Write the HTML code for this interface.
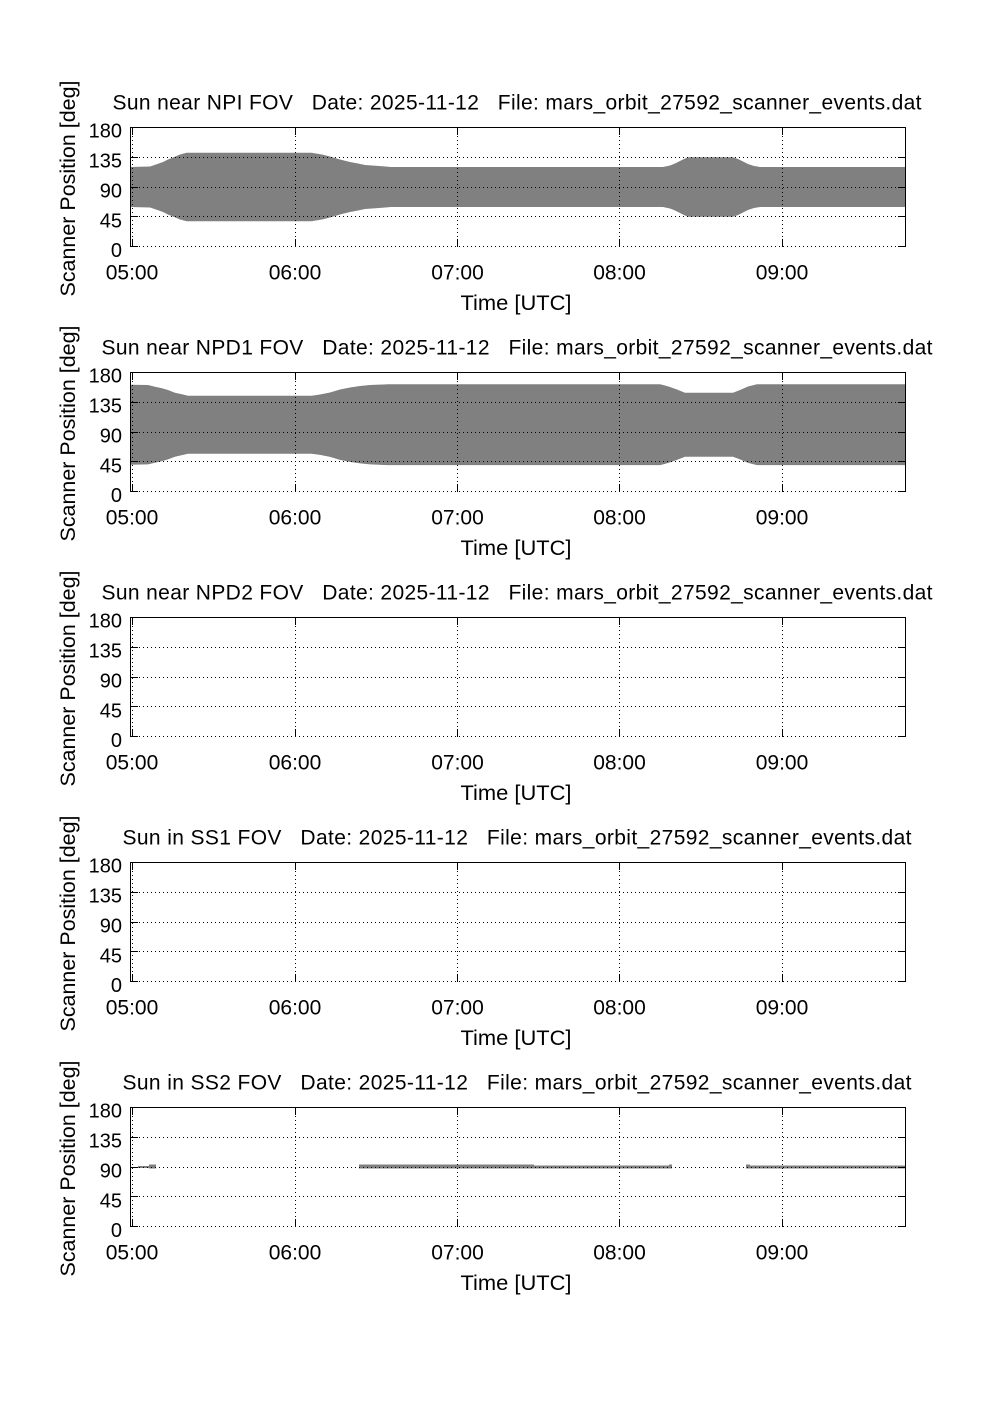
<!DOCTYPE html>
<html>
<head>
<meta charset="utf-8">
<style>
html,body{margin:0;padding:0;background:#fff;}
svg{display:block;}
text{font-family:"Liberation Sans","DejaVu Sans",sans-serif;fill:#000;white-space:pre;}
.t{font-size:21px;}
.xl{font-size:21px;text-anchor:middle;}
.yl{font-size:20px;text-anchor:end;}
</style>
</head>
<body>
<svg width="1002" height="1419" viewBox="0 0 1002 1419" xmlns="http://www.w3.org/2000/svg" xml:space="preserve">
<rect width="1002" height="1419" fill="#fff"/>
<defs>
  <g id="frame">
    <g stroke="#000" stroke-width="1" stroke-dasharray="1 3" fill="none" shape-rendering="crispEdges">
      <line x1="131" y1="157.5" x2="905" y2="157.5"/>
      <line x1="131" y1="187.5" x2="905" y2="187.5"/>
      <line x1="131" y1="216.5" x2="905" y2="216.5"/>
      <line x1="131" y1="246.5" x2="905" y2="246.5"/>
      <line x1="132.5" y1="128" x2="132.5" y2="246"/>
      <line x1="295.5" y1="128" x2="295.5" y2="246"/>
      <line x1="457.5" y1="128" x2="457.5" y2="246"/>
      <line x1="619.5" y1="128" x2="619.5" y2="246"/>
      <line x1="782.5" y1="128" x2="782.5" y2="246"/>
    </g>
    <g stroke="#000" stroke-width="1" fill="none" shape-rendering="crispEdges">
      <path d="M130.5 247 V127.5 H905.5 V247"/>
      <line x1="130" y1="157.5" x2="138" y2="157.5"/>
      <line x1="130" y1="187.5" x2="138" y2="187.5"/>
      <line x1="130" y1="216.5" x2="138" y2="216.5"/>
      <line x1="130" y1="246.5" x2="138" y2="246.5"/>
      <line x1="898" y1="157.5" x2="906" y2="157.5"/>
      <line x1="898" y1="187.5" x2="906" y2="187.5"/>
      <line x1="898" y1="216.5" x2="906" y2="216.5"/>
      <line x1="898" y1="246.5" x2="906" y2="246.5"/>
      <line x1="132.5" y1="127.5" x2="132.5" y2="135"/>
      <line x1="295.5" y1="127.5" x2="295.5" y2="135"/>
      <line x1="457.5" y1="127.5" x2="457.5" y2="135"/>
      <line x1="619.5" y1="127.5" x2="619.5" y2="135"/>
      <line x1="782.5" y1="127.5" x2="782.5" y2="135"/>
      <line x1="132.5" y1="239" x2="132.5" y2="247"/>
      <line x1="295.5" y1="239" x2="295.5" y2="247"/>
      <line x1="457.5" y1="239" x2="457.5" y2="247"/>
      <line x1="619.5" y1="239" x2="619.5" y2="247"/>
      <line x1="782.5" y1="239" x2="782.5" y2="247"/>
    </g>
    <text class="yl" x="122" y="137.7">180</text>
    <text class="yl" x="122" y="167.6">135</text>
    <text class="yl" x="122" y="197.5">90</text>
    <text class="yl" x="122" y="227.3">45</text>
    <text class="yl" x="122" y="257.1">0</text>
    <text class="xl" x="132" y="279.3">05:00</text>
    <text class="xl" x="295" y="279.3">06:00</text>
    <text class="xl" x="457.5" y="279.3">07:00</text>
    <text class="xl" x="619.5" y="279.3">08:00</text>
    <text class="xl" x="782" y="279.3">09:00</text>
    <text class="t" x="516" y="310" text-anchor="middle" textLength="111" lengthAdjust="spacingAndGlyphs">Time [UTC]</text>
    <text class="t" transform="translate(75,188.5) rotate(-90)" x="0" y="0" text-anchor="middle" textLength="216" lengthAdjust="spacingAndGlyphs">Scanner Position [deg]</text>
  </g>
</defs>

<!-- Panel 1 -->
<g>
  <polygon fill="#808080" points="130,167 150,166.5 156,164.5 163,162 168,159.5 173,157.5 180,154.5 186.7,152.7 311.7,152.7 316,153.5 322,154.5 330,156.5 340,159.5 350,162 358,163.5 365,165 379,166 391,167 663,167 670,165.5 675,163.5 680,161 684,159 688,157.3 733,157.3 738,159 743,161.5 748,164 754,166 760,167 906,167 906,207 760,207 754,208 748,210 743,212.5 738,215 733,216.7 688,216.7 684,215 680,213 675,210.5 670,208.5 663,207 391,207 379,208 365,209 358,210.5 350,212 340,214.5 330,217.5 322,219.5 316,220.5 311.7,221.3 186.7,221.3 180,219.5 173,216.5 168,214.5 163,212 156,209.5 150,207.5 130,207"/>
  <use href="#frame"/>
  <text class="t" x="112.5" y="109.3" textLength="809" lengthAdjust="spacing">Sun near NPI FOV   Date: 2025-11-12   File: mars_orbit_27592_scanner_events.dat</text>
</g>

<!-- Panel 2 -->
<g transform="translate(0,245)">
  <polygon fill="#808080" transform="translate(0,-245)" points="130,384.7 148,385 155,386.7 162,388.3 168,390 175,392.7 182,394.3 188,395.7 311.7,395.7 320,394.5 330,392.5 340,389.5 350,387.5 360,386 370,385 388,384.3 660,384.3 665,385.5 670,387 677,389.5 685,392.7 733,392.7 740,390 748,386.5 757,384.3 906,384.3 906,465.1 757,465.1 748,462.9 740,459.4 733,456.7 685,456.7 677,459.9 670,462.4 665,463.9 660,465.1 388,465.1 370,464.4 360,463.4 350,461.9 340,459.9 330,456.9 320,454.9 311.7,453.7 188,453.7 182,455.1 175,456.7 168,459.4 162,461.1 155,462.7 148,464.4 130,464.7"/>
  <use href="#frame"/>
  <text class="t" x="101.5" y="109.3" textLength="831" lengthAdjust="spacing">Sun near NPD1 FOV   Date: 2025-11-12   File: mars_orbit_27592_scanner_events.dat</text>
</g>

<!-- Panel 3 -->
<g transform="translate(0,490)">
  <use href="#frame"/>
  <text class="t" x="101.5" y="109.3" textLength="831" lengthAdjust="spacing">Sun near NPD2 FOV   Date: 2025-11-12   File: mars_orbit_27592_scanner_events.dat</text>
</g>

<!-- Panel 4 -->
<g transform="translate(0,735)">
  <use href="#frame"/>
  <text class="t" x="122.5" y="109.3" textLength="789" lengthAdjust="spacing">Sun in SS1 FOV   Date: 2025-11-12   File: mars_orbit_27592_scanner_events.dat</text>
</g>

<!-- Panel 5 -->
<g transform="translate(0,980)">
  <g fill="#808080" shape-rendering="crispEdges">
    <rect x="138" y="186" width="11" height="2"/>
    <rect x="149" y="184.7" width="7" height="4"/>
    <rect x="359" y="184.7" width="175" height="4"/>
    <rect x="533" y="185.7" width="138" height="3"/>
    <rect x="669" y="184.7" width="3" height="4"/>
    <rect x="746" y="184.7" width="4" height="4"/>
    <rect x="746" y="185.7" width="160" height="3"/>
  </g>
  <use href="#frame"/>
  <text class="t" x="122.5" y="109.3" textLength="789" lengthAdjust="spacing">Sun in SS2 FOV   Date: 2025-11-12   File: mars_orbit_27592_scanner_events.dat</text>
</g>
</svg>
</body>
</html>
